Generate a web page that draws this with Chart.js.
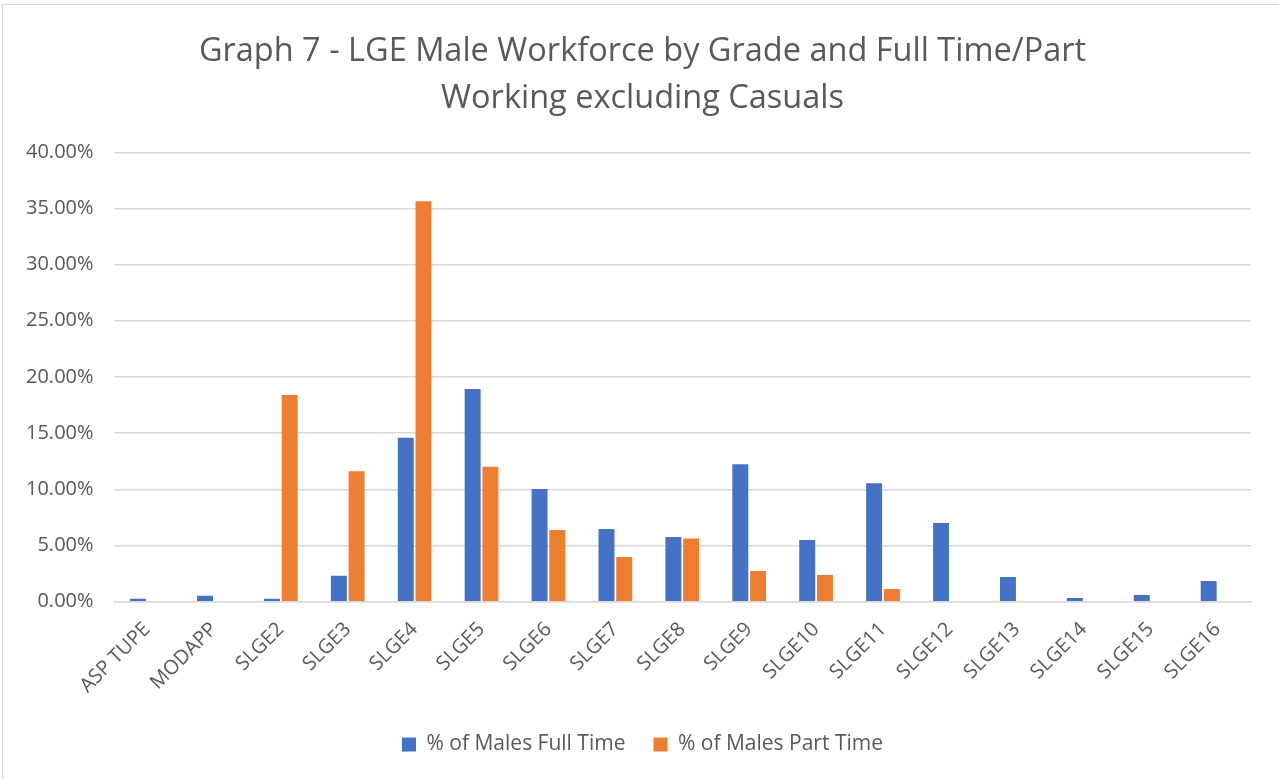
<!DOCTYPE html>
<html>
<head>
<meta charset="utf-8">
<script src="https://cdn.jsdelivr.net/npm/chart.js@4"></script>
<style>
    html, body { margin: 0; padding: 0; background: #ffffff; }
    #wrap {
        position: absolute; left: 2px; top: 4px; width: 1277px; height: 775px;
        border: 1px solid #d9d9d9; border-right: none; border-bottom: none;
        box-sizing: border-box;
    }
</style>
</head>
<body>
<div id="wrap"><canvas id="gradeChart"></canvas></div>
<script>
const grades = ["ASP TUPE", "MODAPP", "SLGE2", "SLGE3", "SLGE4", "SLGE5", "SLGE6", "SLGE7", "SLGE8",
    "SLGE9", "SLGE10", "SLGE11", "SLGE12", "SLGE13", "SLGE14", "SLGE15", "SLGE16"];
const fullTime = [0.27, 0.53, 0.27, 2.31, 14.58, 18.93, 10.02, 6.46, 5.75, 12.24, 5.48, 10.55, 7.0, 2.2, 0.33, 0.6, 1.84];
const partTime = [0, 0, 18.4, 11.6, 35.64, 12.0, 6.37, 3.97, 5.63, 2.73, 2.37, 1.13, 0, 0, 0, 0, 0];

const textColor = "#595959";
const fontFamily = "'Open Sans', sans-serif";

document.addEventListener("DOMContentLoaded", function () {
    const ctx = document.getElementById("gradeChart").getContext("2d");
    new Chart(ctx, {
        type: "bar",
        data: {
            labels: grades,
            datasets: [{
                label: "% of Males Full Time",
                data: fullTime,
                backgroundColor: "#4472c4",
                categoryPercentage: 0.53,
                barPercentage: 0.9
            }, {
                label: "% of Males Part Time",
                data: partTime,
                backgroundColor: "#ed7d31",
                categoryPercentage: 0.53,
                barPercentage: 0.9
            }]
        },
        options: {
            responsive: true,
            maintainAspectRatio: false,
            animation: false,
            layout: { padding: { left: 3, right: 0, top: 14, bottom: 14 } },
            scales: {
                x: {
                    grid: { display: false },
                    border: { color: "#d9d9d9", width: 1.5 },
                    ticks: {
                        color: textColor,
                        font: { family: fontFamily, size: 20 },
                        maxRotation: 45, minRotation: 45,
                        padding: 8
                    }
                },
                y: {
                    min: 0, max: 40,
                    border: { display: false },
                    grid: { color: "#d9d9d9", lineWidth: 1.5, drawTicks: false },
                    ticks: {
                        stepSize: 5,
                        color: textColor,
                        padding: 20,
                        font: { family: fontFamily, size: 20 },
                        callback: v => v.toFixed(2) + "%"
                    }
                },
                // empty right-hand spacer so the title and legend centre like the original
                spacer: {
                    position: "right",
                    min: 0, max: 40,
                    grid: { display: false },
                    border: { display: false },
                    ticks: { display: false },
                    afterFit: s => { s.width = 28; }
                }
            },
            plugins: {
                title: {
                    display: true,
                    text: ["Graph 7 - LGE Male Workforce by Grade and Full Time/Part", "Working excluding Casuals"],
                    color: textColor,
                    font: { family: fontFamily, size: 32.5, weight: "normal", lineHeight: 1.45 },
                    padding: { top: 9, bottom: 30 }
                },
                legend: {
                    position: "bottom",
                    labels: {
                        color: textColor,
                        font: { family: fontFamily, size: 21 },
                        boxWidth: 14, boxHeight: 14,
                        padding: 28
                    }
                },
                tooltip: { enabled: false }
            }
        }
    });
});
</script>
</body>
</html>
